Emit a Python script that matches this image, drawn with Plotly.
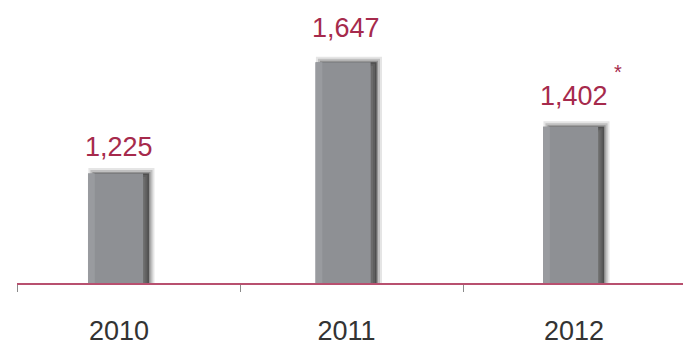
import plotly.graph_objects as go

years = ["2010", "2011", "2012"]
values = [1225, 1647, 1402]
value_labels = ["1,225", "1,647", "1,402"]
footnote_mark = ["", "", "*"]

pos = list(range(len(years)))
RED = "#a62a4c"
BODY = "#8e9094"
FONT = "Liberation Sans, Arial, sans-serif"

# per-label lift above the bar top (pixels)
label_lift = [10, 17, 14]

fig = go.Figure()

# soft drop shadow up and to the right: stacked translucent bars with widening outlines
for lw, alpha in [(11, 0.12), (7, 0.2), (3, 0.3), (0, 0.3)]:
    fig.add_trace(go.Bar(
        x=pos, y=values, offset=-0.11, width=0.242,
        marker=dict(color=f"rgba(45,45,45,{alpha})",
                    line=dict(width=lw, color=f"rgba(45,45,45,{alpha})")),
        hoverinfo="skip", showlegend=False,
    ))

# bar bodies
fig.add_trace(go.Bar(
    x=pos, y=values, offset=-0.136, width=0.242,
    marker=dict(color=BODY, line=dict(width=0)),
    showlegend=False,
))
# lighter left edge of each bar
fig.add_trace(go.Bar(
    x=pos, y=values, offset=-0.136, width=0.03,
    marker=dict(color="#999b9f", line=dict(width=0)),
    hoverinfo="skip", showlegend=False,
))

annotations = []
for p, v, lab, mark, lift in zip(pos, values, value_labels, footnote_mark, label_lift):
    annotations.append(dict(
        x=p, y=v, text=lab, showarrow=False, yanchor="bottom", yshift=lift,
        font=dict(family=FONT, size=27, color=RED),
    ))
    if mark:
        annotations.append(dict(
            x=p, y=v, text=mark, showarrow=False, yanchor="bottom",
            xshift=44, yshift=lift + 28,
            font=dict(family=FONT, size=20, color=RED),
        ))

fig.update_layout(
    width=683, height=346,
    margin=dict(l=17, r=0, t=0, b=56),
    paper_bgcolor="white", plot_bgcolor="white",
    barmode="overlay",
    annotations=annotations,
    xaxis=dict(
        range=[-0.448, 2.479],
        tickvals=pos, ticktext=years, ticks="",
        tickfont=dict(family=FONT, size=27, color="#333333"),
        ticklabelstandoff=23,
        showline=True, linecolor="#b8506f", linewidth=2,
        showgrid=False, zeroline=False,
        minor=dict(tickvals=[-0.445, 0.536, 1.516], ticks="outside",
                   ticklen=7, tickwidth=1, tickcolor="#8a8a8a", showgrid=False),
    ),
    yaxis=dict(range=[810, 1883], visible=False, showgrid=False, zeroline=False),
)

fig.write_html("out.html")
